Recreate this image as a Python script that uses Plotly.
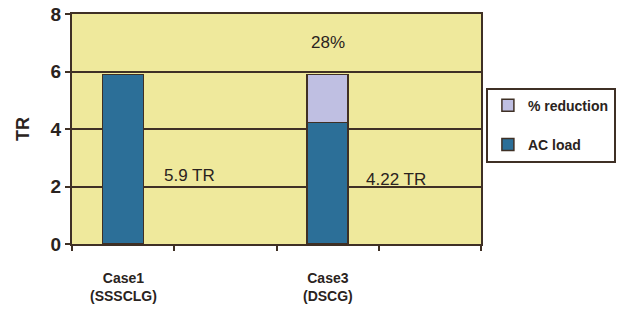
import plotly.graph_objects as go

positions = [0, 2]
case_labels = ["Case1<br>(SSSCLG)", "Case3<br>(DSCG)"]
ac_load = [5.9, 4.22]
reduction = [0.0, 1.68]
value_labels = ["5.9 TR", "4.22 TR"]
pct_label = "28%"
y_ticks = [0, 2, 4, 6, 8]

dark = "#3f3025"
family = "Liberation Sans, Arial, sans-serif"
fnt = dict(family=family, color="#2a2320")

fig = go.Figure()
fig.add_trace(go.Bar(x=positions, y=ac_load, name="AC load", width=0.4, legendgroup="a", legendrank=2,
                     marker=dict(color="#2c6f98", line=dict(color=dark, width=1.5))))
fig.add_trace(go.Bar(x=positions, y=reduction, name="% reduction", width=0.4, legendgroup="b", legendrank=1,
                     marker=dict(color="#bfbfe2", line=dict(color=dark, width=1.5))))

fig.update_layout(
    barmode="stack",
    width=621, height=312,
    margin=dict(l=72, r=140, t=14, b=68, autoexpand=False),
    paper_bgcolor="white",
    plot_bgcolor="#efe99c",
    font=fnt,
    showlegend=True,
    legend=dict(x=1.012, y=0.68, xanchor="left", yanchor="top",
                bgcolor="white", bordercolor=dark, borderwidth=2,
                traceorder="grouped",
                font=dict(size=14, family=family, color="#2a2320", weight="bold"),
                itemwidth=30, tracegroupgap=18),
    xaxis=dict(range=[-0.5, 3.5], tickvals=[-0.5, 0.5, 1.5, 2.5, 3.5], ticktext=["", "", "", "", ""],
               ticks="outside", ticklen=5, tickwidth=2, tickcolor=dark, automargin=False,
               showgrid=False, zeroline=False, showline=True, linecolor=dark, linewidth=2, mirror=True),
    yaxis=dict(range=[0, 8], tickvals=y_ticks, ticks="outside", ticklen=5, tickwidth=2, tickcolor=dark,
               showgrid=True, gridcolor=dark, gridwidth=2, zeroline=False, automargin=False,
               showline=True, linecolor=dark, linewidth=2, mirror=True,
               tickfont=dict(size=19, weight="bold"),
               title=dict(text="TR", font=dict(size=18, weight="bold"), standoff=16)),
)

for p, lab in zip(positions, case_labels):
    fig.add_annotation(x=p, y=0, xref="x", yref="y", yshift=-24, yanchor="top",
                       text=lab, showarrow=False,
                       font=dict(size=14, weight="bold"), align="center")

fig.add_annotation(x=0.38, y=2.0, xref="x", yref="y", xanchor="left", yanchor="bottom",
                   text=value_labels[0], showarrow=False, font=dict(size=17))
fig.add_annotation(x=2.36, y=2.0, xref="x", yref="y", xanchor="left", yanchor="bottom",
                   text=value_labels[1], showarrow=False, font=dict(size=17), yshift=-4)
fig.add_annotation(x=2.0, y=7.0, xref="x", yref="y",
                   text=pct_label, showarrow=False, font=dict(size=17))

fig.write_html("out.html", config={"displayModeBar": False},
               post_script="document.body.style.margin='0';")
